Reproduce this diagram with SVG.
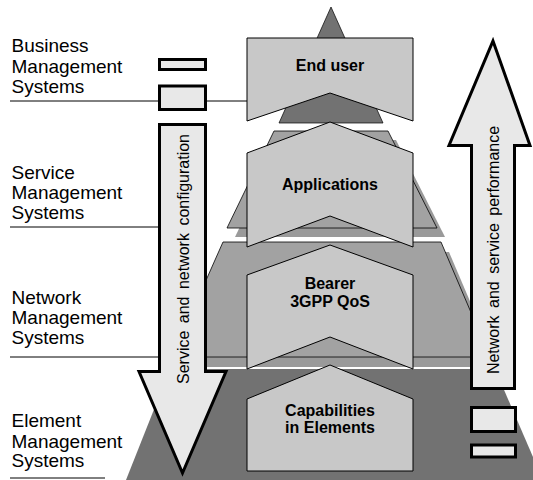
<svg xmlns="http://www.w3.org/2000/svg" width="533" height="480" viewBox="0 0 533 480">
  <style>
    .lbl { font-family: "Liberation Sans", Arial, sans-serif; font-size: 19px; fill: #000; }
    .box { fill: #c8c8c8; stroke: #000; stroke-width: 1; }
    .boxtxt { font-family: "Liberation Sans", Arial, sans-serif; font-size: 16px; font-weight: bold; fill: #000; text-anchor: middle; }
    .slab { fill: #a2a2a2; stroke: #000; stroke-width: 0.8; }
    .shadow { fill: #9a9a9a; }
    .dark { fill: #727272; }
    .flow { fill: #e8e8e8; stroke: #000; stroke-width: 3; stroke-linejoin: miter; }
    .flowtxt { font-family: "Liberation Sans", Arial, sans-serif; font-size: 16px; fill: #000; text-anchor: middle; word-spacing: 3px; }
    .rule { stroke: #000; stroke-width: 1; fill: none; }
    .tab { fill: #e8e8e8; stroke: #000; stroke-width: 3; }
  </style>

  <!-- background pyramid layers -->
  <g id="layers">
    <polygon class="dark" points="170,369 495,369 543,480 126,480"/>
    <polygon class="shadow" points="231,252 449,252 498,367 182,367"/>
    <polygon class="slab" points="223,242 441,242 490,357 172,357"/>
    <polygon class="shadow" points="282,140 396,140 445,237 235,237"/>
    <polygon class="slab" points="274,131 388,131 437,228 227,228"/>
    <polygon class="dark" stroke="#000" stroke-width="0.7" points="331,7 383,123 279,123"/>
  </g>

  <g id="end-user">
    <polygon class="box" points="247,38 413,38 413,121 330,93 247,121"/>
    <text class="boxtxt" x="330" y="71">End user</text>
  </g>

  <g id="applications">
    <polygon class="box" points="247,153 330,122 413,153 413,247 330,216 247,247"/>
    <text class="boxtxt" x="330" y="190">Applications</text>
  </g>

  <g id="bearer">
    <polygon class="box" points="247,275 330,245 413,275 413,369 330,337 247,369"/>
    <text class="boxtxt" x="330" y="289">Bearer</text>
    <text class="boxtxt" x="330" y="307">3GPP QoS</text>
  </g>

  <g id="capabilities">
    <polygon class="box" points="247,399 330,365 413,399 413,471 247,471"/>
    <text class="boxtxt" x="330" y="416">Capabilities</text>
    <text class="boxtxt" x="330" y="433">in Elements</text>
  </g>

  <!-- level separators -->
  <g id="connectors">
    <line class="rule" x1="10" y1="101" x2="247" y2="101"/>
    <line class="rule" x1="10" y1="227" x2="159" y2="227"/>
    <line class="rule" x1="10" y1="357" x2="159" y2="357"/>
    <line class="rule" x1="10" y1="478" x2="105" y2="478"/>
  </g>

  <!-- management flows -->
  <g id="configuration-flow">
    <polygon class="flow" points="159.5,124.5 205.5,124.5 205.5,371.5 226,371.5 182.5,473 139,371.5 159.5,371.5"/>
    <text class="flowtxt" transform="translate(188.5,259) rotate(-90)">Service and network configuration</text>
  </g>

  <g id="performance-flow">
    <polygon class="flow" points="493,41 530,145.5 514.5,145.5 514.5,388.5 471.5,388.5 471.5,145.5 449,145.5"/>
    <text class="flowtxt" transform="translate(499,250) rotate(-90)">Network and service performance</text>
  </g>

  <g id="business-ms">
    <text class="lbl" x="11.5" y="52">Business</text>
    <text class="lbl" x="11.5" y="73">Management</text>
    <text class="lbl" x="11.5" y="92.5">Systems</text>
    <rect class="tab" x="159.5" y="59.5" width="46" height="10"/>
    <rect class="tab" x="159.5" y="86" width="46" height="23.5"/>
  </g>

  <g id="service-ms">
    <text class="lbl" x="11.5" y="179">Service</text>
    <text class="lbl" x="11.5" y="199">Management</text>
    <text class="lbl" x="11.5" y="218.5">Systems</text>
  </g>

  <g id="network-ms">
    <text class="lbl" x="11.5" y="303.5">Network</text>
    <text class="lbl" x="11.5" y="324">Management</text>
    <text class="lbl" x="11.5" y="344">Systems</text>
  </g>

  <g id="element-ms">
    <text class="lbl" x="11.5" y="427">Element</text>
    <text class="lbl" x="11.5" y="447.5">Management</text>
    <text class="lbl" x="11.5" y="467">Systems</text>
    <rect class="tab" x="471.5" y="407.5" width="44" height="24"/>
    <rect class="tab" x="471.5" y="445" width="44" height="12"/>
  </g>
</svg>
